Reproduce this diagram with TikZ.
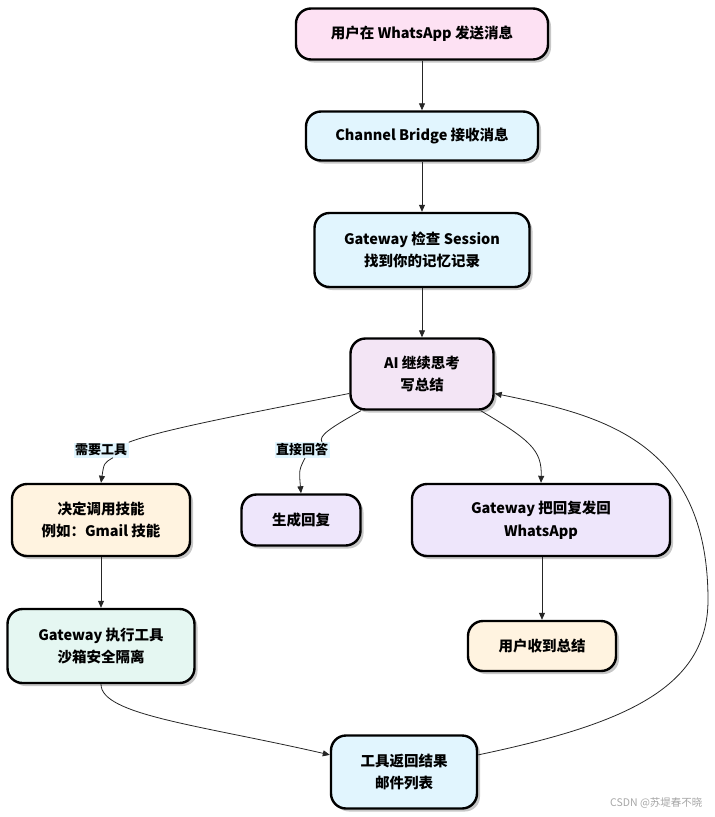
\documentclass[tikz,border=0pt]{standalone}
\usepackage{fontspec}
\setmainfont{Noto Sans CJK SC}
\usetikzlibrary{arrows.meta,shadows}
\definecolor{cpink}{HTML}{FDE1F3}
\definecolor{cblue}{HTML}{E1F5FE}
\definecolor{cpurple}{HTML}{F3E5F5}
\definecolor{corange}{HTML}{FFF3E0}
\definecolor{clav}{HTML}{EEE6FB}
\definecolor{cgreen}{HTML}{E5F7F2}
\definecolor{clbl}{HTML}{E1F5FE}
\tikzset{
  box/.style={draw=black, line width=2.4pt, rounded corners=15pt, align=center,
    font=\fontsize{14.5}{22.5}\selectfont\bfseries, inner sep=0pt,
    drop shadow={shadow xshift=3pt, shadow yshift=-3pt, fill=black!22, opacity=1}},
  lbl/.style={fill=clbl, inner sep=1.5pt, font=\fontsize{13}{15}\selectfont\bfseries},
  arr/.style={draw=black!85, line width=0.8pt, -{Triangle[length=7pt,width=6pt]}},
  ln/.style={draw=black!85, line width=0.8pt}
}
\begin{document}
\begin{tikzpicture}[x=1pt,y=-1pt]
\useasboundingbox (0,0) rectangle (715,817);
\node[box, fill=cpink, minimum width=252pt, minimum height=51pt] (n1) at (422,34) {用户在 WhatsApp 发送消息};
\node[box, fill=cblue, minimum width=232pt, minimum height=49pt] (n2) at (422,136) {Channel Bridge 接收消息};
\node[box, fill=cblue, minimum width=215pt, minimum height=74pt] (n3) at (422,250) {Gateway 检查 Session\\找到你的记忆记录};
\node[box, fill=cpurple, minimum width=143pt, minimum height=71pt] (n4) at (422,374) {AI 继续思考\\写总结};
\node[box, fill=corange, minimum width=178pt, minimum height=72pt] (n5) at (101,520) {决定调用技能\\例如：Gmail 技能};
\node[box, fill=clav, minimum width=119pt, minimum height=51pt] (n6) at (301,520) {生成回复};
\node[box, fill=clav, minimum width=258pt, minimum height=72pt] (n7) at (541,520) {Gateway 把回复发回\\WhatsApp};
\node[box, fill=cgreen, minimum width=187pt, minimum height=74pt] (n8) at (101,646) {Gateway 执行工具\\沙箱安全隔离};
\node[box, fill=corange, minimum width=148pt, minimum height=50pt] (n9) at (542,646) {用户收到总结};
\node[box, fill=cblue, minimum width=146pt, minimum height=73pt] (n10) at (404,772) {工具返回结果\\邮件列表};

\node[lbl] (l1) at (101,450) {需要工具};
\node[lbl] (l2) at (302,450) {直接回答};

\draw[arr] (n1) -- (n2);
\draw[arr] (n2) -- (n3);
\draw[arr] (n3) -- (n4);
\draw[ln] (n4.195) .. controls (250,413) and (160,430) .. (l1.north east);
\draw[arr] ([xshift=12pt]l1.south) .. controls (104,463) .. (n5.north);
\draw[ln] (n4.211) .. controls (330,428) and (318,436) .. ([xshift=20pt]l2.north);
\draw[arr] ([xshift=3pt]l2.south) .. controls (299,470) .. (n6.north);
\draw[arr] (n4.-32) .. controls (530,440) and (542,450) .. (n7.north);
\draw[arr] (n5) -- (n8);
\draw[arr] (n7.south -| n9.north) -- (n9.north);
\draw[arr] (n8.south) .. controls (101,715) and (200,725) .. (n10.167);
\draw[arr] (n10.13) .. controls (620,725) and (708,690) .. (708,600)
   .. controls (708,440) and (600,415) .. (n4.-15);

\node[text=black!35, font=\fontsize{10.5}{12}\selectfont, anchor=east] (wm) at (706,803) {CSDN @苏堤春不晓};
\end{tikzpicture}
\end{document}
